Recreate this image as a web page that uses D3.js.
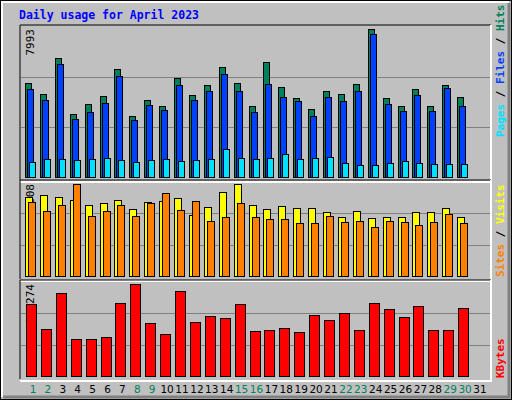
<!DOCTYPE html>
<html><head><meta charset="utf-8">
<script src="https://cdn.jsdelivr.net/npm/d3@7"></script>
<style>body{margin:0;background:#fff}svg{display:block}</style>
</head><body><div id="chart"></div>
<script>
var days = d3.range(1, 32);
var weekend = [1, 2, 8, 9, 15, 16, 22, 23, 29, 30];
// values (day 31 has no data)
var hits  = [5077,4483,6428,3402,3942,4375,5833,3294,4159,3835,5347,4429,4969,5941,5077,3835,6212,4861,4267,3672,4645,4483,5023,7993,4267,3835,4753,3835,4969,4321];
var files = [4753,4159,6104,3132,3510,3996,5455,3078,3888,3618,4969,4159,4645,5563,4645,3510,5023,4321,4105,3294,4321,4105,4645,7723,3942,3564,4429,3564,4807,3834];
var pages = [810,972,972,918,972,1026,918,810,918,972,864,918,972,1512,1026,972,1026,1242,972,1026,1080,756,648,648,756,864,756,702,702,702];
var visits = [436,447,436,420,392,403,420,371,409,414,431,337,381,464,508,392,371,387,376,376,354,326,359,321,326,326,354,354,376,326];
var sites  = [409,359,392,508,332,359,392,332,403,458,365,414,304,326,403,326,315,315,293,293,332,299,304,271,304,299,282,299,343,293];
var kbytes = [306137,198760,353384,155813,155813,164403,310432,392274,224531,177285,361974,228826,254596,246006,306137,190170,194465,203055,185875,259891,238417,268914,194465,310432,284662,250301,297547,194465,194465,288957];

var W = 512, H = 400, x0 = 20, x1 = 491;
var svg = d3.select("#chart").append("svg").attr("width", W).attr("height", H)
    .style("font-family", "'DejaVu Sans Mono', monospace");

svg.append("rect").attr("width", W).attr("height", H).attr("fill", "#c0c0c0");
svg.append("rect").attr("x", 0.5).attr("y", 0.5).attr("width", W - 1).attr("height", H - 1).attr("fill", "none").attr("stroke", "#000");
svg.append("path").attr("d", "M2,397V2H509").attr("fill", "none").attr("stroke", "#fff").attr("stroke-width", 2);
svg.append("path").attr("d", "M509,3V397H3").attr("fill", "none").attr("stroke", "#808080").attr("stroke-width", 3);

svg.append("text").attr("x", 19).attr("y", 19).attr("fill", "#0000ff").attr("font-weight", "bold")
    .attr("font-size", 11.5).text("Daily usage for April 2023");

var x = d3.scaleBand().domain(days).range([25, 25 + 31 * 14.9]).paddingInner(0);

function panel(top, bottom, maxv, label) {
    svg.append("path").attr("d", "M" + x0 + "," + bottom + "V" + top + "H" + x1).attr("fill", "none").attr("stroke", "#000");
    svg.append("path").attr("d", "M" + x0 + "," + (bottom + 2) + "H" + x1 + "V" + top).attr("fill", "none").attr("stroke", "#fff").attr("stroke-width", 2);
    var y = d3.scaleLinear().domain([0, maxv]).range([bottom - 3, top + 4]);
    [1 / 3, 2 / 3].forEach(function (f) {
        var gy = Math.round(bottom - 3 - (bottom - top - 4) * f * 0.99) + 0.5;
        svg.append("line").attr("x1", x0 + 1).attr("x2", x1 - 1).attr("y1", gy).attr("y2", gy).attr("stroke", "#808080");
    });
    svg.append("text").attr("transform", "translate(" + 34 + "," + (top + 4) + ") rotate(-90)")
        .attr("text-anchor", "end").attr("font-size", 11).attr("fill", "#000").text(label);
    return y;
}

function bars(y, data, off, w, color) {
    svg.append("g").selectAll("rect").data(data).join("rect")
        .attr("x", function (d, i) { return Math.round(x(i + 1)) + off + 0.5; })
        .attr("y", function (d) { return Math.round(y(d)) + 0.5; })
        .attr("width", w)
        .attr("height", function (d) { return Math.round(y(0)) - Math.round(y(d)); })
        .attr("fill", color).attr("stroke", "#000");
}

var y1 = panel(25, 180, 7993, "7993");
bars(y1, hits, 0, 6, "#00805c");
bars(y1, files, 2, 6, "#0040ff");
bars(y1, pages, 4, 6, "#00e0ff");

var y2 = panel(180, 279, 508, "508");
bars(y2, visits, 0, 7, "#ffff00");
bars(y2, sites, 3, 7, "#ff8000");

var y3 = panel(280, 379, 392274, "392274");
bars(y3, kbytes, 1, 10, "#ff0000");

// day labels
svg.append("g").selectAll("text").data(days).join("text")
    .attr("x", function (d) { return x(d) + 8; }).attr("y", 393)
    .attr("text-anchor", "middle").attr("font-size", 10.5)
    .attr("font-family", "'DejaVu Sans', sans-serif")
    .attr("fill", function (d) { return weekend.indexOf(d) >= 0 ? "#00805c" : "#000"; })
    .text(function (d) { return d; });

function sideLabel(yb, parts) {
    var t = svg.append("text").attr("transform", "translate(504," + yb + ") rotate(-90)")
        .attr("font-size", 11).attr("font-weight", "bold");
    parts.forEach(function (p) { t.append("tspan").attr("fill", p[1]).text(p[0]); });
}
sideLabel(137, [["Pages", "#00e0ff"], [" / ", "#000"], ["Files", "#0040ff"], [" / ", "#000"], ["Hits", "#00805c"]]);
sideLabel(277, [["Sites", "#ff8000"], [" / ", "#000"], ["Visits", "#ffff00"]]);
sideLabel(378, [["KBytes", "#ff0000"]]);
</script></body></html>
